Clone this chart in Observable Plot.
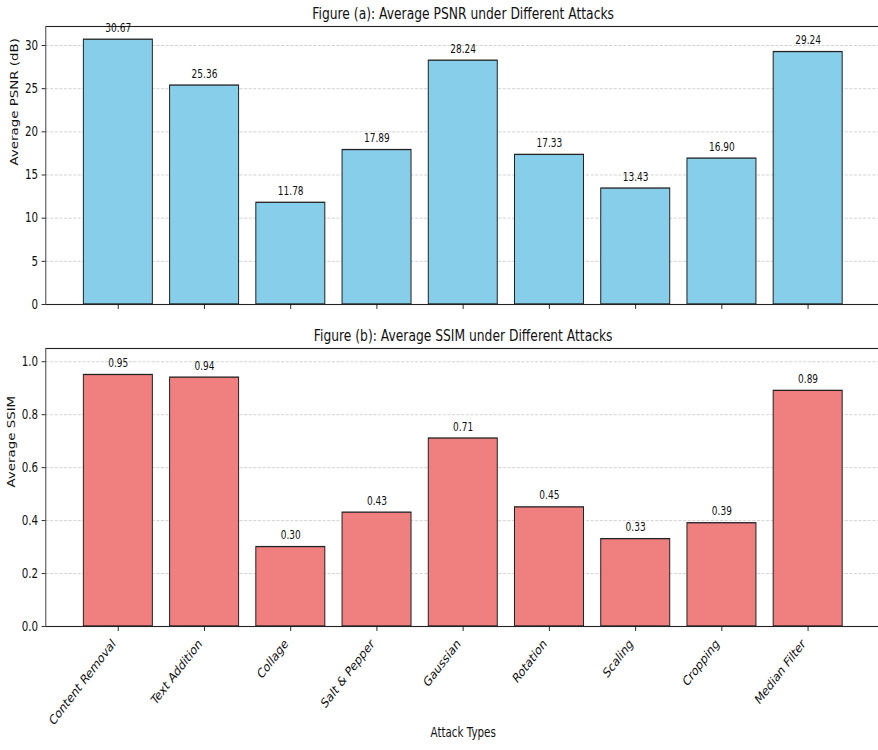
<!DOCTYPE html>
<html>
<head>
<meta charset="utf-8">
<script src="https://cdn.jsdelivr.net/npm/d3@7"></script>
<script src="https://cdn.jsdelivr.net/npm/@observablehq/plot@0.6"></script>
<style>
  html, body { margin: 0; padding: 0; background: white; overflow: hidden; width: 878px; height: 750px; }
  #wrap { width: 1160px; height: 750px; transform: scaleX(0.77); transform-origin: 0 0; }
  #wrap svg { display: block; max-width: none; }
</style>
</head>
<body>
<div id="wrap"></div>
<script>
const attacks = ["Content Removal", "Text Addition", "Collage", "Salt & Pepper", "Gaussian", "Rotation", "Scaling", "Cropping", "Median Filter"];
const psnrValues = [30.67, 25.36, 11.78, 17.89, 28.24, 17.33, 13.43, 16.90, 29.24];
const ssimValues = [0.95, 0.94, 0.30, 0.43, 0.71, 0.45, 0.33, 0.39, 0.89];
const psnrTicks = [0, 5, 10, 15, 20, 25, 30];
const ssimTicks = [0, 0.2, 0.4, 0.6, 0.8, 1.0];
const titleA = "Figure (a): Average PSNR under Different Attacks";
const titleB = "Figure (b): Average SSIM under Different Attacks";
const yLabelA = "Average PSNR (dB)";
const yLabelB = "Average SSIM";
const xLabel = "Attack Types";

const dataA = attacks.map((a, i) => ({attack: a, value: psnrValues[i]}));
const dataB = attacks.map((a, i) => ({attack: a, value: ssimValues[i]}));

const W = 1160;
const style = {fontFamily: "DejaVu Sans", fontSize: "13.4px", color: "#111", background: "white", overflow: "visible"};
const xScale = {type: "band", domain: attacks, paddingInner: 0.2, paddingOuter: 0.44, align: 0.5, round: false};
const grid = {stroke: "#b0b0b0", strokeOpacity: 0.7, strokeDasharray: "4,2", strokeWidth: 0.9};
const spine = {stroke: "#222", strokeWidth: 1.1, insetRight: -30};
const fmt2 = d3.format(".2f");

const plotA = Plot.plot({
  width: W, height: 318,
  marginLeft: 59, marginRight: 17, marginTop: 26, marginBottom: 14,
  style,
  x: xScale,
  y: {domain: [0, 32.2]},
  marks: [
    Plot.gridY(psnrTicks, grid),
    Plot.barY(dataA, {x: "attack", y: "value", fill: "#87CEEB", stroke: "#222", strokeWidth: 1.3}),
    Plot.frame(spine),
    Plot.axisY(psnrTicks, {tickSize: 5, tickPadding: 5, label: null, fontSize: 13.4}),
    Plot.axisX({tickSize: 5, tickFormat: () => "", label: null}),
    Plot.text(dataA, {x: "attack", y: "value", text: d => fmt2(d.value), dy: -8, lineAnchor: "bottom", fontSize: 11.7, fill: "#111"}),
    Plot.text([titleA], {frameAnchor: "top", dy: -8, lineAnchor: "bottom", fontSize: 16, fill: "#111"}),
    Plot.text([yLabelA], {frameAnchor: "left", dx: -40, rotate: -90, fontSize: 13.4, fill: "#111"})
  ]
});

const plotB = Plot.plot({
  width: W, height: 432,
  marginLeft: 59, marginRight: 17, marginTop: 30, marginBottom: 124,
  style,
  x: xScale,
  y: {domain: [0, 1.05]},
  marks: [
    Plot.gridY(ssimTicks, grid),
    Plot.barY(dataB, {x: "attack", y: "value", fill: "#F08080", stroke: "#222", strokeWidth: 1.3}),
    Plot.frame(spine),
    Plot.axisY(ssimTicks, {tickSize: 5, tickPadding: 5, label: null, fontSize: 13.4, tickFormat: d3.format(".1f")}),
    Plot.axisX({tickSize: 5, tickFormat: () => "", label: null}),
    Plot.axisX({tickSize: 0, tickPadding: 15, tickRotate: -45, dx: -5.6, textAnchor: "end", lineAnchor: "middle", label: null, fontSize: 13.4}),
    Plot.text(dataB, {x: "attack", y: "value", text: d => fmt2(d.value), dy: -8, lineAnchor: "bottom", fontSize: 11.7, fill: "#111"}),
    Plot.text([titleB], {frameAnchor: "top", dy: -8, lineAnchor: "bottom", fontSize: 16, fill: "#111"}),
    Plot.text([yLabelB], {frameAnchor: "left", dx: -44, rotate: -90, fontSize: 13.4, fill: "#111"}),
    Plot.text([xLabel], {frameAnchor: "bottom", dy: 110, fontSize: 13.4, fill: "#111"})
  ]
});

const wrap = document.getElementById("wrap");
wrap.appendChild(plotA);
wrap.appendChild(plotB);
</script>
</body>
</html>
